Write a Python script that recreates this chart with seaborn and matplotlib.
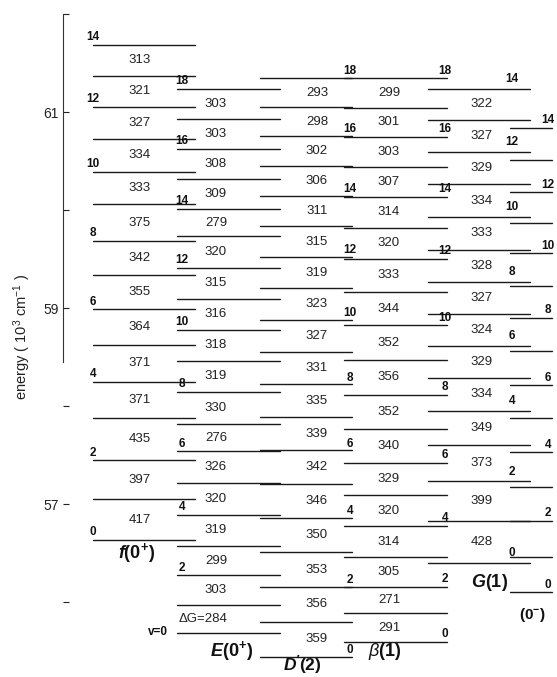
import numpy as np
import pandas as pd
import seaborn as sns
import matplotlib.pyplot as plt

# -------------------------------
# Level data (cm-1)
# T0 = energy of v=0, dG = vibrational spacings from the bottom up
# -------------------------------
f_T0 = 56630
f_dG = [417, 397, 435, 371, 371, 364, 355, 342, 375, 333, 334, 327, 321, 313]

E_T0 = 55685
E_dG = [284, 303, 299, 319, 320, 326, 276, 330, 319, 318, 316, 315, 320, 279,
        309, 308, 303, 303]

D_T0 = 55440
D_dG = [359, 356, 353, 350, 346, 342, 339, 335, 331, 327, 323, 319, 315, 311,
        306, 302, 298, 293]

beta_T0 = 55592
beta_dG = [291, 271, 305, 314, 320, 329, 340, 352, 356, 352, 344, 333, 320, 314,
           307, 303, 301, 299]

G_T0 = 56403
G_dG = [428, 399, 373, 349, 334, 329, 324, 327, 328, 333, 334, 329, 327, 322]

# (0-) column: only level positions, no spacings printed
om_levels = [56100, 56460, 56830, 57170, 57530, 57880, 58210, 58560, 58900,
             59220, 59560, 59870, 60180, 60510, 60840]

col_names = ['f', 'E', 'D', 'beta', 'G', 'om']
col_titles = [r'$\mathbfit{f}\mathbf{(0^{+})}$', r'$\mathbfit{E}\mathbf{(0^{+})}$',
              r"$\mathbfit{D'}\mathbf{(2)}$", r'$\mathit{\beta}\mathbf{(1)}$',
              r'$\mathbfit{G}\mathbf{(1)}$', r'$\mathbf{(0^{-})}$']

y_ticks = [56, 57, 58, 59, 60, 61, 62]
y_ticklabels = ['', '57', '', '59', '', '61', '']


def build(T0, dG):
    return np.concatenate([[T0], T0 + np.cumsum(dG)]) / 1000.0


levels = {
    'f': build(f_T0, f_dG),
    'E': build(E_T0, E_dG),
    'D': build(D_T0, D_dG),
    'beta': build(beta_T0, beta_dG),
    'G': build(G_T0, G_dG),
    'om': np.array(om_levels) / 1000.0,
}
spacings = {'f': f_dG, 'E': E_dG, 'D': D_dG, 'beta': beta_dG, 'G': G_dG, 'om': []}

# layout in figure pixels (x) : line extent, spacing-label x, v-label x
layout = {
    'f':    dict(x0=93,  x1=195, dgx=140, vx=93,  vdy=0.08, tx=137, tdy=0.13, tsize=13),
    'E':    dict(x0=177, x1=280, dgx=216, vx=182, vdy=0.08, tx=232, tdy=0.19, tsize=13),
    'D':    dict(x0=260, x1=352, dgx=317, vx=350, vdy=0.07, tx=302, tdy=0.08, tsize=12.5),
    'beta': dict(x0=344, x1=447, dgx=389, vx=445, vdy=0.08, tx=385, tdy=0.10, tsize=13),
    'G':    dict(x0=428, x1=530, dgx=482, vx=512, vdy=0.10, tx=490, tdy=0.20, tsize=13),
    'om':   dict(x0=510, x1=552, dgx=None, vx=548, vdy=0.075, tx=532, tdy=0.23, tsize=11),
}

# segments table for seaborn
rows = []
seg = 0
for name in col_names:
    lay = layout[name]
    for e in levels[name]:
        rows.append((seg, lay['x0'], e))
        rows.append((seg, lay['x1'], e))
        seg += 1
segs = pd.DataFrame(rows, columns=['seg', 'x', 'energy'])

# -------------------------------
# Plot
# -------------------------------
sns.set_theme(style='white')
plt.rcParams['font.family'] = ['Liberation Sans', 'DejaVu Sans']
plt.rcParams['mathtext.fontset'] = 'custom'
plt.rcParams['mathtext.rm'] = 'Liberation Sans'
plt.rcParams['mathtext.it'] = 'Liberation Sans:italic'
plt.rcParams['mathtext.bf'] = 'Liberation Sans:bold'
plt.rcParams['mathtext.bfit'] = 'Liberation Sans:italic:bold'

fig = plt.figure(figsize=(5.57, 6.77), dpi=100)
ax = fig.add_axes([63 / 557, 0, 494 / 557, 1])

sns.lineplot(data=segs, x='x', y='energy', units='seg', estimator=None,
             sort=False, color='#1a1a1a', linewidth=1.0, legend=False, ax=ax)

for name, title in zip(col_names, col_titles):
    lay = layout[name]
    lv = levels[name]
    # spacing labels between neighbouring levels
    for i, d in enumerate(spacings[name]):
        ymid = (lv[i] + lv[i + 1]) / 2
        txt = str(d)
        x = lay['dgx']
        if name == 'E' and i == 0:
            txt = '\u0394G=' + txt
            x = 203
        ax.text(x, ymid, txt, ha='center', va='center', fontsize=9.5, color='#222222')
    # vibrational quantum numbers (every second level)
    for v in range(0, len(lv), 2):
        if name == 'E' and v == 0:
            ax.text(158, lv[0] + 0.01, 'v=0', ha='center', va='center',
                    fontsize=8.5, fontweight='bold', color='#111111')
            continue
        ax.text(lay['vx'], lv[v] + lay['vdy'], str(v), ha='center', va='center',
                fontsize=8.5, fontweight='bold', color='#111111')
    ax.text(lay['tx'], lv[0] - lay['tdy'], title, ha='center', va='center',
            fontsize=lay['tsize'], color='#111111')

ax.set_xlim(63, 557)
ax.set_ylim(61 - 565 / 98, 61 + 112 / 98)
ax.set_xticks([])
ax.set_yticks(y_ticks)
ax.set_yticklabels(y_ticklabels, fontsize=10)
ax.tick_params(axis='y', direction='in', length=4, width=0.8, pad=3,
               left=True, colors='#222222')
for s in ['top', 'right', 'bottom']:
    ax.spines[s].set_visible(False)
ax.spines['left'].set_bounds(58.45, 62.0)
ax.spines['left'].set_color('#333333')
ax.spines['left'].set_linewidth(0.8)
ax.set_xlabel('')
ax.set_ylabel('')
ax.patch.set_alpha(0)

fig.text(22 / 557, 1 - 337 / 677, 'energy ( 10$^{3}$ cm$^{-1}$ )', rotation=90,
         ha='center', va='center', fontsize=10.5, color='#222222')

fig.savefig('out.png', dpi=100)
